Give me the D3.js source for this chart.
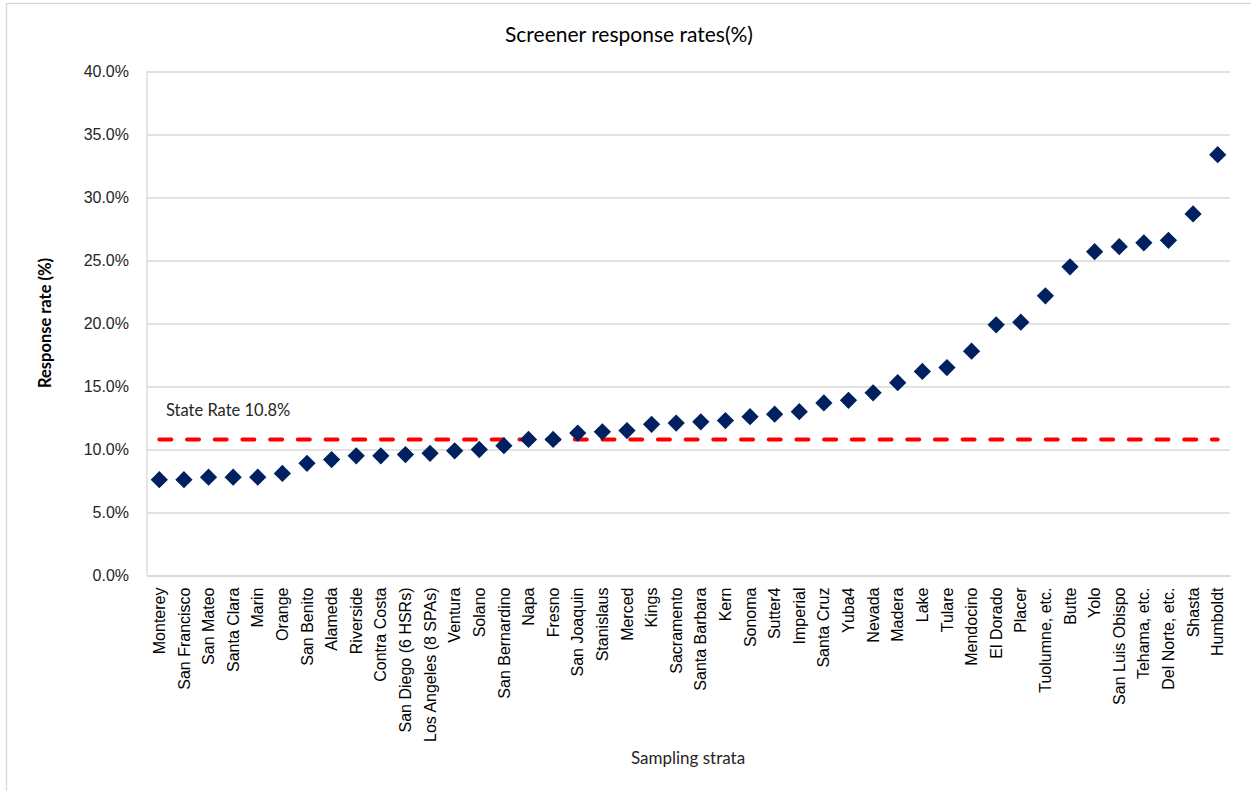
<!DOCTYPE html>
<html>
<head>
<meta charset="utf-8">
<script src="https://cdn.jsdelivr.net/npm/d3@7"></script>
<style>
  html, body { margin: 0; padding: 0; background: #fff; }
  svg { display: block; font-family: Lato, "Open Sans", sans-serif; }
</style>
</head>
<body>
<svg id="chart"></svg>
<script>
// strata, sorted by response rate
const strata = ["Monterey", "San Francisco", "San Mateo", "Santa Clara", "Marin", "Orange",
  "San Benito", "Alameda", "Riverside", "Contra Costa", "San Diego (6 HSRs)", "Los Angeles (8 SPAs)",
  "Ventura", "Solano", "San Bernardino", "Napa", "Fresno", "San Joaquin", "Stanislaus", "Merced",
  "Kings", "Sacramento", "Santa Barbara", "Kern", "Sonoma", "Sutter4", "Imperial", "Santa Cruz",
  "Yuba4", "Nevada", "Madera", "Lake", "Tulare", "Mendocino", "El Dorado", "Placer",
  "Tuolumne, etc.", "Butte", "Yolo", "San Luis Obispo", "Tehama, etc.", "Del Norte, etc.",
  "Shasta", "Humboldt"];

// response rate (%)
const rates = [7.6, 7.6, 7.8, 7.8, 7.8, 8.1,
  8.9, 9.2, 9.5, 9.5, 9.6, 9.7,
  9.9, 10.0, 10.3, 10.8, 10.8, 11.3, 11.4, 11.5,
  12.0, 12.1, 12.2, 12.3, 12.6, 12.8, 13.0, 13.7,
  13.9, 14.5, 15.3, 16.2, 16.5, 17.8, 19.9, 20.1,
  22.2, 24.5, 25.7, 26.1, 26.4, 26.6,
  28.7, 33.4];

const stateRate = 10.8;
const yTicks = [0, 5, 10, 15, 20, 25, 30, 35, 40];

const width = 1251, height = 791;
const svg = d3.select("#chart").attr("width", width).attr("height", height);

// outer chart border
svg.append("rect")
  .attr("x", 6.5).attr("y", 3.5)
  .attr("width", width + 10).attr("height", height + 10)
  .attr("fill", "none").attr("stroke", "#d9d9d9").attr("stroke-width", 1.3);

const x = d3.scaleBand().domain(strata).range([147, 1230]).padding(0);
const y = d3.scaleLinear().domain([0, 40]).range([575.5, 71.5]);

// gridlines + tick labels
const yAxis = d3.axisLeft(y).tickValues(yTicks)
  .tickSize(-(1230 - 147)).tickPadding(18)
  .tickFormat(d => d.toFixed(1) + "%");

const gy = svg.append("g").attr("transform", "translate(147,0)").call(yAxis);
gy.select(".domain").remove();
gy.selectAll(".tick line").attr("stroke", "#d9d9d9").attr("stroke-width", 1.3);
gy.selectAll(".tick text").attr("fill", "#262626").style("font-size", "16px")
  .attr("x", -18);

// left axis line
svg.append("line")
  .attr("x1", 147).attr("x2", 147).attr("y1", y(40)).attr("y2", y(0))
  .attr("stroke", "#d9d9d9").attr("stroke-width", 1.3);

// category axis
const xAxis = d3.axisBottom(x).tickSize(0).tickPadding(0);
const gx = svg.append("g").attr("transform", `translate(0,${y(0)})`).call(xAxis);
gx.select(".domain").attr("stroke", "#d9d9d9").attr("stroke-width", 1.3);
gx.selectAll(".tick text")
  .attr("fill", "#000").style("font-size", "16px")
  .attr("transform", "rotate(-90)")
  .attr("x", -12).attr("y", 0).attr("dy", "0.35em")
  .attr("text-anchor", "end");

// state rate reference line
svg.append("line")
  .attr("x1", x(strata[0]) + x.bandwidth() / 2)
  .attr("x2", x(strata[strata.length - 1]) + x.bandwidth() / 2)
  .attr("y1", y(stateRate)).attr("y2", y(stateRate))
  .attr("stroke", "#ff0000").attr("stroke-width", 4)
  .attr("stroke-dasharray", "12,15.7").attr("stroke-linecap", "round");

svg.append("text")
  .attr("x", 166).attr("y", 416)
  .attr("fill", "#262626").style("font-size", "16.5px")
  .text("State Rate " + stateRate + "%");

// diamonds
const diamond = d3.symbol().type(d3.symbolDiamond2).size(190);
svg.append("g").selectAll("path")
  .data(strata.map((s, i) => ({name: s, v: rates[i]})))
  .join("path")
  .attr("d", diamond)
  .attr("transform", d => `translate(${x(d.name) + x.bandwidth() / 2},${y(d.v)})`)
  .attr("fill", "#002060");

// titles
svg.append("text")
  .attr("x", 629).attr("y", 42).attr("text-anchor", "middle")
  .attr("fill", "#000").style("font-size", "21px")
  .text("Screener response rates(%)");

svg.append("text")
  .attr("x", 688).attr("y", 764).attr("text-anchor", "middle")
  .attr("fill", "#262626").style("font-size", "17px")
  .text("Sampling strata");

svg.append("text")
  .attr("transform", "translate(51,323) rotate(-90)")
  .attr("text-anchor", "middle")
  .attr("fill", "#000").style("font-size", "16.5px").style("font-weight", "bold")
  .text("Response rate (%)");
</script>
</body>
</html>
